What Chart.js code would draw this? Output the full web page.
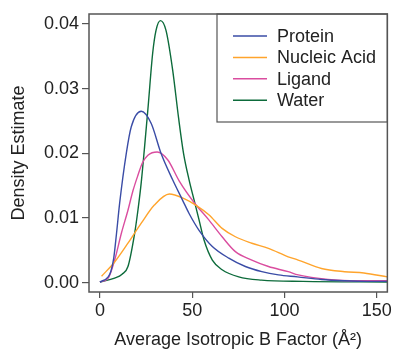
<!DOCTYPE html>
<html>
<head>
<meta charset="utf-8">
<script src="https://cdn.jsdelivr.net/npm/chart.js@4"></script>
<style>
  html, body { margin: 0; padding: 0; background: #fff; }
  #wrap { width: 394px; height: 352px; }
</style>
</head>
<body>
<div id="wrap"><canvas id="myChart"></canvas></div>
<script>
const seriesNames = ['Protein', 'Nucleic Acid', 'Ligand', 'Water'];
const seriesColors = ['#3a4ca6', '#ffa42c', '#da4d9f', '#0d6b3b'];

const proteinX = [0, 4.5, 6, 7.5, 9, 10.7, 14.3, 17, 22.4, 27.8, 33.1, 39.4, 44.7, 48.3, 53.7, 60.9, 69.8, 78.8, 87.7, 96.7, 107, 120, 132.5, 145, 155.7];
const proteinY = [0.0001, 0.0009, 0.0018, 0.0038, 0.0076, 0.0123, 0.020, 0.0241, 0.0265, 0.0246, 0.020, 0.0159, 0.0128, 0.0107, 0.0081, 0.0056, 0.0038, 0.0025, 0.0017, 0.0012, 0.0009, 0.0005, 0.0003, 0.0002, 0.0002];

const nucleicX = [0.9, 8, 15.2, 22.4, 29.5, 37.6, 45.6, 51.9, 59, 66.2, 73.4, 82.3, 91.3, 102, 107.4, 120, 132.5, 143, 155.7];
const nucleicY = [0.001, 0.0032, 0.0061, 0.0092, 0.012, 0.0137, 0.013, 0.012, 0.0105, 0.0084, 0.0071, 0.0061, 0.0053, 0.004, 0.0035, 0.0022, 0.0017, 0.0015, 0.0009];

const ligandX = [0, 4.5, 8, 11.6, 15.2, 17.9, 20.6, 23, 26, 31, 36.7, 43, 51, 59, 66.2, 73.4, 82.3, 91.3, 102, 107.4, 123.5, 140, 155.7];
const ligandY = [0.0001, 0.0007, 0.0035, 0.0076, 0.0112, 0.0142, 0.0166, 0.0185, 0.0197, 0.0202, 0.019, 0.0157, 0.0124, 0.0097, 0.0071, 0.0048, 0.0035, 0.0025, 0.0017, 0.0012, 0.0005, 0.0003, 0.0003];

const waterX = [0, 8, 12, 15.2, 18.8, 20.6, 22.4, 24.2, 26, 28.6, 30.4, 32.8, 35.8, 39.4, 42.6, 45.3, 48.3, 51, 53.7, 56.4, 60.9, 66.2, 75.2, 87.5, 110, 155.7];
const waterY = [0.0001, 0.0007, 0.0013, 0.0025, 0.0076, 0.0112, 0.0155, 0.021, 0.0268, 0.0355, 0.039, 0.0405, 0.039, 0.0329, 0.0255, 0.020, 0.0159, 0.0128, 0.0097, 0.0066, 0.0035, 0.002, 0.0009, 0.0004, 0.0002, 0.0001];

const xTicks = [0, 50, 100, 150];
const yTicks = [0, 0.01, 0.02, 0.03, 0.04];

const xs = [proteinX, nucleicX, ligandX, waterX];
const ys = [proteinY, nucleicY, ligandY, waterY];

const datasets = seriesNames.map((name, i) => ({
  label: name,
  data: xs[i].map((x, j) => ({ x: x, y: ys[i][j] })),
  borderColor: seriesColors[i],
  borderWidth: 1.4,
  showLine: true,
  pointRadius: 0,
  cubicInterpolationMode: 'monotone',
  fill: false
}));

const fontFamily = "'Liberation Sans', Arial, sans-serif";
const font = { family: fontFamily, size: 18 };
const frameColor = '#555';

// box around the plot + legend box in the top right corner
const framePlugin = {
  id: 'frame',
  afterDraw(chart) {
    const a = chart.chartArea;
    const c = chart.ctx;
    c.save();
    c.strokeStyle = frameColor;
    c.lineWidth = 1.5;
    c.strokeRect(a.left, a.top, a.right - a.left, a.bottom - a.top);

    c.lineWidth = 1.2;
    c.strokeRect(217, a.top, a.right - 217, 108);
    c.font = '18px ' + fontFamily;
    c.fillStyle = '#222';
    c.textBaseline = 'middle';
    seriesNames.forEach((name, i) => {
      const y = 36 + i * 21.4;
      c.strokeStyle = seriesColors[i];
      c.lineWidth = 1.5;
      c.beginPath();
      c.moveTo(233, y);
      c.lineTo(267, y);
      c.stroke();
      c.fillText(name, 277, y + 1);
    });
    c.restore();
  }
};

new Chart(document.getElementById('myChart'), {
  type: 'scatter',
  data: { datasets: datasets },
  options: {
    responsive: true,
    maintainAspectRatio: false,
    animation: false,
    layout: { padding: { left: 0, right: 4, top: 14, bottom: 0 } },
    plugins: { legend: { display: false }, tooltip: { enabled: false } },
    scales: {
      x: {
        type: 'linear',
        min: -5.9,
        max: 155.7,
        afterBuildTicks: (s) => { s.ticks = xTicks.map(v => ({ value: v })); },
        afterFit: (s) => { s.height = 60; },
        grid: { display: true, drawOnChartArea: false, drawTicks: true, tickLength: 6, color: frameColor, lineWidth: 1.2 },
        border: { display: false },
        ticks: { color: '#222', font: font, padding: 2, maxRotation: 0 },
        title: { display: true, text: 'Average Isotropic B Factor (Å²)', color: '#222', font: font, padding: { top: 0, bottom: 1 } }
      },
      y: {
        type: 'linear',
        min: -0.00144,
        max: 0.04153,
        afterBuildTicks: (s) => { s.ticks = yTicks.map(v => ({ value: v })); },
        afterFit: (s) => { s.width = 89; },
        grid: { display: true, drawOnChartArea: false, drawTicks: true, tickLength: 7, color: frameColor, lineWidth: 1.2 },
        border: { display: false },
        ticks: { color: '#222', font: font, padding: 3, callback: (v) => v.toFixed(2) },
        title: { display: true, text: 'Density Estimate', color: '#222', font: font, padding: { top: 8, bottom: 0 } }
      }
    }
  },
  plugins: [framePlugin]
});
</script>
</body>
</html>
